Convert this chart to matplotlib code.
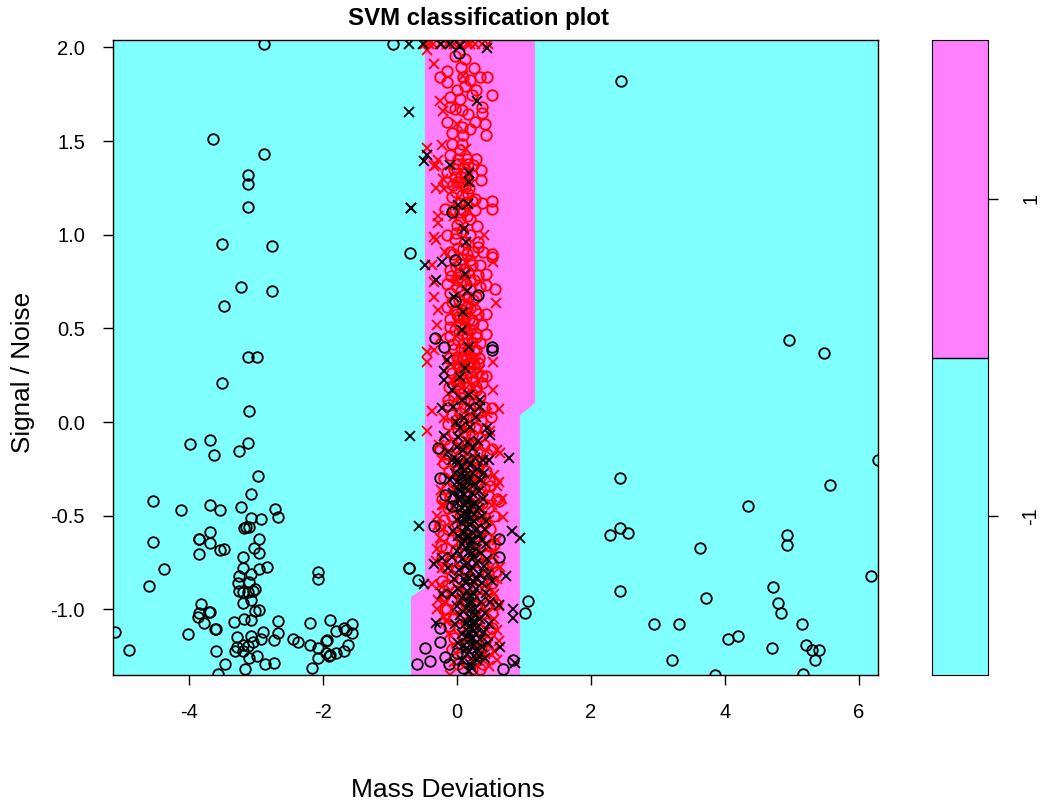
import numpy as np
import matplotlib
matplotlib.use('Agg')
import matplotlib.pyplot as plt

plt.rcParams['font.family'] = ['Liberation Sans', 'DejaVu Sans']

CYAN = '#80FFFF'
PINK = '#FF80FF'

x_ticks = [-4, -2, 0, 2, 4, 6]
y_ticks = [-1.0, -0.5, 0.0, 0.5, 1.0, 1.5, 2.0]
class_labels = ['-1', '1']

# decision region outline
region_x = [-0.478, 1.164, 1.164, 0.94, 0.94, -0.687, -0.687, -0.478]
region_y = [2.04, 2.04, 0.10, 0.037, -1.35, -1.35, -0.933, -0.885]

black_o_left = [
    (-3.99,-0.117),(-3.69,-0.096),(-3.12,-0.11),(-3.63,-0.174),(-3.25,-0.155),(-2.97,-0.288),(-3.08,-0.382),
    (-4.53,-0.423),(-3.69,-0.444),(-4.12,-0.471),(-3.53,-0.471),(-3.23,-0.452),(-2.71,-0.462),(-2.67,-0.505),
    (-3.08,-0.512),(-2.93,-0.517),(-3.18,-0.564),(-3.15,-0.562),(-3.11,-0.558),(-3.69,-0.587),(-3.85,-0.622),
    (-3.85,-0.624),(-2.95,-0.624),(-4.53,-0.64),(-3.68,-0.647),(-3.03,-0.672),(-3.53,-0.684),(-3.48,-0.679),
    (-2.95,-0.70),(-3.85,-0.706),(-3.20,-0.72),(-4.38,-0.786),(-3.20,-0.78),(-2.95,-0.786),(-2.84,-0.773),
    (-3.08,-0.812),(-3.25,-0.82),(-2.08,-0.80),(-2.08,-0.836),(-0.71,-0.78),(-3.27,-0.86),(-3.10,-0.855),
    (-4.59,-0.875),(-3.02,-0.892),(-3.25,-0.901),(-3.20,-0.908),(-3.12,-0.908),(-3.05,-0.90),(-3.20,-0.964),
    (-3.08,-0.949),(-3.82,-0.969),(-3.69,-1.012),(-3.70,-1.015),(-3.85,-1.019),(-3.87,-1.038),(-3.01,-1.008),
    (-2.96,-1.003),(-3.78,-1.07),(-3.18,-1.049),(-3.08,-1.056),(-3.33,-1.068),(-2.67,-1.063),(-2.20,-1.07),
    (-1.90,-1.056),(-3.60,-1.106),(-3.61,-1.106),(-1.56,-1.076),(-1.69,-1.097),(-1.65,-1.109),(-1.81,-1.116),
    (-1.56,-1.124),(-5.11,-1.122),(-4.01,-1.129),(-2.90,-1.122),(-2.67,-1.124),(-3.29,-1.148),(-3.08,-1.141),
    (-2.93,-1.157),(-2.73,-1.164),(-2.45,-1.157),(-2.37,-1.172),(-1.94,-1.164),(-1.95,-1.17),(-3.05,-1.173),
    (-2.20,-1.191),(-2.08,-1.204),(-1.63,-1.189),(-3.29,-1.198),(-3.20,-1.191),(-3.12,-1.195),(-4.89,-1.216),
    (-3.59,-1.223),(-3.31,-1.223),(-3.20,-1.22),(-1.69,-1.223),(-1.80,-1.23),(-1.95,-1.234),(-1.90,-1.243),
    (-1.91,-1.248),(-2.99,-1.25),(-3.10,-1.257),(-2.08,-1.257),(-3.46,-1.29),(-2.86,-1.29),(-2.73,-1.284),
    (-2.16,-1.312),(-3.16,-1.317),(-3.57,-1.344),
    (-3.64,1.51),(-2.88,1.43),(-3.12,1.32),(-3.12,1.27),(-3.12,1.15),(-3.51,0.95),(-2.76,0.94),(-3.22,0.72),
    (-2.76,0.70),(-3.48,0.62),(-3.12,0.35),(-2.98,0.35),(-3.51,0.21),(-3.10,0.06),(-2.88,2.02),(-0.96,2.02),
]

black_o_right = [
    (2.45,1.82),(4.96,0.44),(5.48,0.37),(6.28,-0.20),(5.57,-0.335),(2.43,-0.30),(4.34,-0.45),(2.43,-0.565),
    (2.28,-0.60),(2.55,-0.59),(4.93,-0.60),(4.93,-0.656),(3.63,-0.67),(6.18,-0.82),(4.72,-0.88),(4.79,-0.965),
    (2.43,-0.90),(3.72,-0.94),(4.84,-1.02),(2.94,-1.08),(3.31,-1.08),(5.15,-1.08),(4.19,-1.14),(4.04,-1.16),
    (4.70,-1.205),(5.21,-1.19),(5.30,-1.215),(5.40,-1.215),(5.34,-1.27),(3.21,-1.27),(3.85,-1.35),(5.16,-1.345),
]

black_o_mid = [
    (0.035,1.97),(-0.70,0.905),(-0.07,1.12),(-0.03,0.865),(-0.33,0.451),(-0.20,0.40),(0.53,0.40),(0.53,0.385),
    (-0.03,0.647),(0.32,0.677),(-0.28,-0.14),(-0.26,-0.30),(-0.18,-0.39),(-0.08,-0.45),(-0.35,-0.553),
    (0.63,-0.624),(0.62,-0.722),(-0.71,-0.78),(-0.58,-0.843),(1.06,-0.955),(1.01,-1.02),(-0.25,-1.097),
    (-0.26,-1.175),(-0.48,-1.204),(-0.41,-1.275),(-0.60,-1.291),(-0.18,-1.255),(-0.115,-1.291),(0.095,-1.31),
    (0.68,-1.32),(0.84,-1.27),(-0.005,-1.234),
]

red_o = [
    (-0.03,1.954),(0.12,1.936),(0.06,1.895),(0.25,1.892),(-0.15,1.877),(-0.26,1.842),(-0.15,1.815),(0.34,1.845),
    (0.45,1.845),(0.095,1.842),(0.19,1.824),(0.12,1.797),(0.29,1.771),(-0.005,1.771),(0.53,1.748),(-0.10,1.735),
    (0.045,1.726),(0.22,1.744),(-0.10,1.682),(-0.03,1.673),(0.07,1.664),(0.17,1.646),(0.38,1.682),(0.38,1.652),
    (-0.15,1.602),(0.27,1.602),(0.42,1.589),(0.44,1.534),(-0.07,1.543),(0.07,1.575),(0.19,1.566),(0.095,1.531),
    (-0.08,1.486),(0.07,1.486),(0.045,1.451),(-0.10,1.424),(0.02,1.406),(0.29,1.403),(0.145,1.406),(0.17,1.38),
    (0.24,1.371),(0.36,1.348),(-0.15,1.335),(-0.03,1.308),(0.36,1.291),(0.22,1.317),(0.12,1.255),(-0.15,1.282),
    (-0.055,1.264),(0.045,1.282),(0.27,1.193),(0.37,1.17),(0.53,1.18),(0.53,1.136),(-0.18,1.14),(-0.055,1.131),
    (0.095,1.131),(0.27,1.131),(0.045,1.086),(0.19,1.086),(0.30,1.047),(-0.005,1.051),(-0.15,0.997),(-0.03,0.98),
    (0.19,0.997),(0.32,0.962),(0.32,0.935),(0.24,0.908),(-0.10,0.908),(0.39,0.908),(0.53,0.896),(0.095,0.926),
    (0.53,0.881),(0.44,0.793),(0.32,0.784),(0.57,0.712),(0.44,0.73),(0.34,0.721),(-0.10,0.81),(0.045,0.846),
    (0.19,0.864),(0.34,0.837),(-0.15,0.739),(-0.005,0.757),(0.19,0.757),(0.29,0.668),(0.43,0.579),(0.32,0.579),
    (-0.15,0.615),(-0.005,0.579),(0.145,0.615),(0.22,0.544),(0.37,0.517),(0.44,0.472),(-0.10,0.508),(0.045,0.526),
    (0.145,0.472),(0.29,0.455),(-0.055,0.419),(0.095,0.348),(0.29,0.384),(-0.055,0.33),(0.19,0.313),(0.32,0.313),
    (0.44,0.245),(0.37,0.245),(-0.10,0.277),(0.045,0.295),(0.22,0.241),(-0.005,0.206),(0.145,0.188),(0.29,0.188),
    (0.53,0.073),(0.51,0.028),(-0.13,0.117),(-0.25,-0.141),(0.53,-0.141),
    (0.62,-0.42),(0.60,-0.41),(0.50,-0.34),(0.55,-0.50),(0.56,-0.65),(0.57,-0.80),(0.58,-0.97),(0.52,-1.10),
    (-0.25,-0.55),(-0.24,-0.66),(-0.20,-0.90),(-0.18,-1.00),
]

# dense core of the red circles, read row by row
red_o_core = [
    (0.02,1.38),(0.10,1.36),(-0.05,1.35),(0.13,1.33),(0.06,1.31),(0.15,1.29),(0.00,1.28),(0.09,1.27),(0.18,1.25),
    (-0.02,1.23),(0.08,1.21),(0.17,1.22),(0.03,1.17),(0.13,1.17),(-0.08,1.20),(0.22,1.18),(0.05,1.12),(0.15,1.10),
    (-0.02,1.01),(0.08,1.02),(0.12,0.96),(0.02,0.93),(0.15,0.90),(-0.06,0.90),(0.07,0.87),(0.22,0.84),(-0.01,0.83),
    (0.11,0.82),(0.16,0.80),(0.03,0.79),(-0.09,0.78),(0.08,0.76),(0.25,0.76),(0.13,0.74),(0.00,0.72),(0.20,0.71),
    (0.06,0.70),(-0.11,0.69),(0.10,0.68),(0.16,0.67),(0.24,0.65),(0.03,0.65),(-0.07,0.64),(0.12,0.63),(0.19,0.61),
    (0.07,0.60),(-0.03,0.60),(0.27,0.60),(0.14,0.58),(0.02,0.56),(0.09,0.55),(-0.10,0.55),(0.18,0.55),(0.24,0.53),
    (0.05,0.52),(0.12,0.51),(-0.03,0.49),(0.20,0.49),(0.08,0.47),(0.28,0.47),(-0.10,0.46),(0.15,0.45),(0.02,0.44),
    (0.23,0.43),(0.10,0.42),(0.35,0.42),(-0.04,0.39),(0.06,0.39),(0.17,0.39),(0.26,0.38),(0.12,0.36),(0.00,0.35),
    (0.21,0.35),(-0.12,0.34),(0.07,0.33),(0.33,0.34),(0.15,0.31),(0.25,0.31),(0.02,0.30),(0.10,0.28),(-0.08,0.26),
    (0.19,0.27),(0.30,0.26),(0.05,0.25),(0.14,0.24),(-0.02,0.22),(0.24,0.22),(0.09,0.21),(0.37,0.21),(0.18,0.19),
    (-0.12,0.19),(0.03,0.18),(0.28,0.17),(0.11,0.16),(0.22,0.15),(-0.05,0.14),(0.06,0.13),(0.34,0.14),(0.16,0.12),
    (0.00,0.10),(-0.14,0.09),(0.26,0.10),(0.10,0.08),(0.20,0.07),(0.40,0.08),(0.04,0.05),(-0.07,0.04),(0.30,0.05),
    (0.14,0.03),(0.24,0.02),(-0.01,0.01),(0.36,0.01),(0.08,0.00),(-0.13,-0.01),(0.18,-0.02),(0.28,-0.03),(0.02,-0.04),
    (0.42,-0.04),(-0.05,-0.06),(0.12,-0.06),(0.22,-0.07),(0.33,-0.08),(-0.18,-0.09),(0.06,-0.10),(0.16,-0.11),(0.27,-0.12),
    (-0.10,-0.12),(0.40,-0.12),(0.00,-0.14),(0.10,-0.15),(0.21,-0.15),(0.34,-0.16),(-0.16,-0.17),(0.05,-0.18),(0.45,-0.17),
    (0.15,-0.20),(0.27,-0.20),(-0.05,-0.21),(0.38,-0.21),(-0.20,-0.22),(0.09,-0.23),(0.20,-0.24),(0.31,-0.24),(0.00,-0.26),
    (-0.12,-0.26),(0.43,-0.26),(0.14,-0.27),(0.25,-0.28),(0.05,-0.30),(0.36,-0.29),(-0.20,-0.30),(0.19,-0.31),(-0.06,-0.32),
    (0.30,-0.33),(0.48,-0.31),(0.10,-0.34),(-0.15,-0.35),(0.23,-0.35),(0.40,-0.35),(0.02,-0.37),(0.15,-0.38),(0.33,-0.38),
    (-0.10,-0.40),(0.26,-0.40),(0.46,-0.39),(-0.22,-0.41),(0.07,-0.42),(0.19,-0.43),(0.38,-0.43),(-0.02,-0.44),(0.30,-0.45),
    (-0.14,-0.46),(0.12,-0.47),(0.24,-0.48),(0.47,-0.46),(0.04,-0.50),(-0.08,-0.50),(0.35,-0.50),(0.17,-0.52),(-0.19,-0.52),
    (0.28,-0.53),(0.42,-0.54),(0.08,-0.55),(-0.03,-0.56),(0.21,-0.57),(-0.14,-0.57),(0.35,-0.58),(0.49,-0.57),(0.13,-0.60),
    (0.02,-0.60),(-0.21,-0.60),(0.27,-0.61),(0.43,-0.62),(-0.08,-0.63),(0.07,-0.65),(0.18,-0.65),(0.37,-0.66),(-0.16,-0.67),
    (0.50,-0.66),(0.25,-0.68),(-0.02,-0.69),(0.12,-0.70),(0.44,-0.71),(-0.22,-0.72),(0.32,-0.72),(0.05,-0.74),(-0.10,-0.74),
    (0.20,-0.75),(0.39,-0.76),(0.52,-0.75),(-0.17,-0.78),(0.00,-0.79),(0.12,-0.79),(0.28,-0.80),(0.46,-0.81),(-0.07,-0.82),
    (0.06,-0.84),(0.21,-0.84),(0.36,-0.85),(-0.23,-0.85),(0.52,-0.86),(-0.13,-0.87),(0.14,-0.88),(0.29,-0.89),(0.43,-0.90),
    (-0.02,-0.90),(0.07,-0.92),(-0.19,-0.93),(0.22,-0.93),(0.36,-0.94),(0.52,-0.94),(-0.09,-0.95),(0.13,-0.97),(0.28,-0.98),
    (0.45,-0.98),(0.00,-0.99),(-0.15,-1.00),(0.20,-1.01),(0.37,-1.02),(0.07,-1.03),(0.53,-1.02),(-0.06,-1.05),(0.28,-1.05),
    (0.14,-1.07),(0.44,-1.07),(-0.12,-1.09),(0.03,-1.10),(0.22,-1.11),(0.35,-1.11),(0.50,-1.12),(0.09,-1.14),(-0.04,-1.15),
    (0.28,-1.16),(0.42,-1.17),(0.16,-1.18),(0.00,-1.20),(0.36,-1.21),(-0.08,-1.21),(0.08,-1.23),(0.23,-1.23),(0.47,-1.22),
    (0.30,-1.27),(0.14,-1.28),(0.39,-1.29),(0.02,-1.29),(0.22,-1.32),(0.34,-1.32),
]

red_x = [
    (-0.44,1.984),(-0.35,1.913),(0.095,1.85),(-0.25,1.712),(-0.21,1.659),(-0.005,1.593),(-0.45,1.463),(-0.23,1.477),
    (-0.28,1.397),(-0.31,1.374),(-0.35,1.37),(-0.21,1.296),(-0.31,1.25),(-0.20,1.246),(-0.29,1.063),(-0.35,0.988),
    (-0.31,0.97),(-0.18,0.908),(-0.38,0.837),(0.54,0.855),(-0.35,0.748),(-0.35,0.668),(0.58,0.638),(-0.30,0.517),
    (-0.45,0.375),(-0.35,0.384),(-0.44,0.321),(0.54,0.321),(0.54,0.174),(-0.38,0.06),(0.62,0.072),(-0.44,-0.047),
    (0.59,-0.15),(0.64,-0.167),(0.62,-0.32),(0.67,-0.41),(0.69,-0.505),(-0.38,-0.864),(0.64,-0.772),(-0.23,-0.443),
    (-0.11,-1.35),(0.59,-1.27),(-0.20,-1.04),(0.59,-1.11),(-0.48,2.02),(-0.36,2.02),(-0.26,2.02),(-0.15,2.02),
    (-0.05,2.02),(0.05,2.02),(0.15,2.02),(0.27,2.02),(0.37,2.02),(0.46,2.02),(-0.42,2.02),(0.20,2.02),
    (-0.30,-0.50),(-0.28,-0.55),(-0.30,-0.68),(-0.32,-0.74),(0.60,-0.63),(0.55,-0.70),(0.60,-0.84),(0.55,-0.92),
    (0.63,-0.98),(-0.28,-0.95),(-0.30,-1.00),(0.62,-1.17),(0.55,-1.22),(0.48,-1.30),(0.60,-0.34),(0.55,-0.28),
    (-0.22,-0.20),(-0.27,-0.12),(-0.20,0.02),(0.45,0.05),(0.50,-0.05),(0.35,0.28),(-0.25,0.45),(-0.28,0.60),
    (0.40,1.00),(-0.28,1.10),(0.05,0.30),(0.12,-0.05),(0.22,-0.30),(0.30,-0.68),(0.40,-1.00),(0.05,-0.95),
    (-0.24,-0.36),(-0.20,-0.44),(0.52,-0.44),(0.48,-0.52),(-0.26,-0.62),(-0.22,-0.78),(0.50,-0.78),(-0.25,-0.87),
    (0.48,-0.88),(-0.18,-0.96),(0.56,-1.05),(-0.16,-1.06),(0.46,-1.14),(-0.12,-1.13),(0.42,-1.24),(-0.05,-1.28),
    (-0.04,1.10),(0.08,1.38),(0.14,1.46),(-0.02,0.75),(0.14,0.52),(-0.06,0.22),(0.28,0.32),(0.18,-0.12),
]

black_x = [
    (-0.72,2.02),(-0.50,2.02),(-0.24,2.02),(-0.10,2.02),(0.05,2.01),(0.45,1.996),(0.30,1.717),(-0.72,1.655),
    (-0.45,1.424),(-0.49,1.392),(-0.10,1.374),(0.18,1.332),(0.18,1.282),(0.02,1.157),(0.17,1.166),(-0.69,1.145),
    (-0.68,1.145),(0.11,1.033),(0.13,0.962),(-0.48,0.837),(-0.23,0.855),(0.12,0.789),(-0.31,0.757),(0.145,0.70),
    (-0.04,0.668),(0.095,0.588),(0.07,0.494),(0.18,0.401),(-0.145,0.33),(0.12,0.291),(-0.19,0.273),(-0.20,0.224),
    (0.045,0.241),(-0.08,0.17),(0.18,0.144),(-0.23,0.076),(0.07,0.117),(0.34,0.117),(-0.055,0.081),(0.19,0.081),
    (-0.70,-0.073),(-0.19,-0.073),(0.45,-0.034),(0.49,-0.07),(0.02,-0.079),(0.19,-0.025),(0.17,-0.105),(-0.13,-0.159),
    (0.095,-0.15),(0.77,-0.189),(0.39,-0.203),(0.48,-0.203),(-0.08,-0.203),(0.145,-0.203),(0.34,0.081),(-0.005,-0.132),
    (0.28,0.03),(0.10,0.02),(-0.02,0.0),(0.32,-0.10),(0.24,-0.14),(0.05,-0.03),(0.00,-0.20),(0.27,-0.19),
    (-0.57,-0.553),(0.82,-0.582),(0.94,-0.62),(-0.34,-0.758),(-0.22,-0.727),(-0.49,-0.866),(0.73,-0.822),(-0.23,-0.92),
    (0.84,-1.0),(0.84,-1.047),(0.62,-0.977),(-0.31,-1.074),(0.64,-1.2),(0.87,-1.288),(0.22,-1.314),(0.18,-1.33),
    (0.02,-0.22),(0.08,-0.24),(0.20,-0.23),(0.30,-0.25),(-0.03,-0.27),(0.06,-0.28),(0.12,-0.29),(0.24,-0.27),(0.40,-0.27),
    (-0.10,-0.31),(0.00,-0.32),(0.04,-0.33),(0.09,-0.34),(0.17,-0.32),(0.27,-0.33),(0.36,-0.31),(0.03,-0.36),(0.06,-0.37),
    (-0.06,-0.38),(0.11,-0.39),(0.22,-0.38),(0.33,-0.37),(0.02,-0.41),(0.14,-0.42),(0.27,-0.43),(0.39,-0.41),
    (-0.05,-0.45),(0.08,-0.46),(0.17,-0.46),(0.20,-0.47),(0.33,-0.46),(0.10,-0.49),(0.14,-0.50),(0.17,-0.50),(0.21,-0.51),
    (0.00,-0.52),(0.25,-0.53),(0.38,-0.50),(0.43,-0.53),(0.08,-0.54),(0.15,-0.53),(0.19,-0.55),(0.30,-0.57),(0.35,-0.60),
    (-0.06,-0.58),(0.11,-0.59),(0.42,-0.57),(0.38,-0.63),(0.02,-0.61),(0.15,-0.62),(0.24,-0.63),(0.44,-0.65),
    (0.07,-0.65),(0.13,-0.67),(0.19,-0.66),(0.28,-0.68),(0.00,-0.69),(0.22,-0.70),(0.36,-0.70),(0.45,-0.73),
    (-0.08,-0.72),(0.08,-0.73),(0.15,-0.75),(0.28,-0.75),(0.40,-0.77),(-0.13,-0.78),(0.03,-0.79),(0.20,-0.79),
    (0.33,-0.81),(0.47,-0.81),(-0.05,-0.84),(0.10,-0.84),(0.24,-0.85),(0.38,-0.86),(0.52,-0.85),(0.02,-0.89),
    (0.15,-0.90),(0.28,-0.89),(0.44,-0.91),(-0.08,-0.92),(0.08,-0.94),(0.20,-0.93),(0.23,-0.96),(0.36,-0.96),
    (0.50,-0.96),(0.00,-0.98),(0.14,-0.99),(0.27,-1.00),(0.42,-1.02),(0.05,-1.03),(0.18,-1.04),(0.22,-1.05),
    (0.26,-1.06),(0.34,-1.05),(0.48,-1.08),(-0.03,-1.08),(0.12,-1.08),(0.19,-1.09),(0.23,-1.10),(0.30,-1.10),
    (0.40,-1.12),(0.07,-1.13),(0.15,-1.14),(0.24,-1.15),(0.34,-1.16),(0.46,-1.18),(0.02,-1.18),(0.10,-1.19),
    (0.20,-1.19),(0.30,-1.21),(0.38,-1.20),(0.15,-1.24),(0.25,-1.25),(0.33,-1.25),(0.42,-1.26),(0.08,-1.27),(0.20,-1.29),
    (0.10,-0.26),(0.16,-0.31),(0.13,-0.35),(0.05,-0.40),(0.18,-0.41),(0.23,-0.44),(0.12,-0.44),(0.06,-0.50),(0.26,-0.49),
    (0.13,-0.56),(0.24,-0.59),(0.17,-0.60),(0.21,-0.63),(0.10,-0.63),(0.16,-0.70),(0.26,-0.72),(0.12,-0.77),(0.24,-0.78),
    (0.18,-0.83),(0.30,-0.84),(0.13,-0.86),(0.25,-0.92),(0.18,-0.96),(0.27,-1.03),(0.21,-1.00),(0.24,-1.08),(0.18,-1.12),
    (0.28,-1.13),(0.22,-1.16),(0.26,-1.19),(0.14,-1.21),(0.30,-1.27),
]


def draw_points(ax, pts, marker, color):
    arr = np.array(pts)
    ax.plot(arr[:, 0], arr[:, 1], linestyle='none', marker=marker, ms=7.6,
            mfc='none', mec=color, mew=1.3)


fig = plt.figure(figsize=(10.5, 8.1), dpi=100)
ax = fig.add_axes([113/1050, 1 - 675/810, 765/1050, 635/810])
ax.set_xlim(-5.134, 6.284)
ax.set_ylim(-1.35, 2.04)
ax.set_facecolor(CYAN)
ax.fill(region_x, region_y, color=PINK, lw=0)

draw_points(ax, red_o, 'o', 'red')
draw_points(ax, red_o_core, 'o', 'red')
draw_points(ax, red_x, 'x', 'red')
draw_points(ax, black_o_left, 'o', 'black')
draw_points(ax, black_o_right, 'o', 'black')
draw_points(ax, black_o_mid, 'o', 'black')
draw_points(ax, black_x, 'x', 'black')

ax.set_xticks(x_ticks)
ax.set_xticklabels([str(v) for v in x_ticks])
ax.set_yticks(y_ticks)
ax.set_yticklabels([f'{v:.1f}' for v in y_ticks])
ax.tick_params(length=7.2, width=1, pad=13, labelsize=14.5)
for spine in ax.spines.values():
    spine.set_linewidth(1)

# class colour key
key = fig.add_axes([932/1050, 1 - 675/810, 56/1050, 635/810])
key.bar([0, 0], [1, 1], bottom=[0, 1], width=1, color=[CYAN, PINK], lw=0)
key.axhline(1, color='black', lw=1)
key.set_xlim(-0.5, 0.5)
key.set_ylim(0, 2)
key.set_xticks([])
key.yaxis.tick_right()
key.set_yticks([0.5, 1.5])
key.set_yticklabels(class_labels, rotation=90, va='center')
key.tick_params(length=7.2, width=1, pad=17, labelsize=14.5)

fig.text(478/1050, 1 - 18/810, 'SVM classification plot', ha='center', va='center',
         fontsize=17.3, fontweight='bold')
fig.text(448/1050, 1 - 790/810, 'Mass Deviations', ha='center', va='center', fontsize=19)
fig.text(23/1050, 1 - 372/810, 'Signal / Noise', ha='center', va='center', rotation=90, fontsize=18.8)

fig.savefig('out.png', dpi=100)
